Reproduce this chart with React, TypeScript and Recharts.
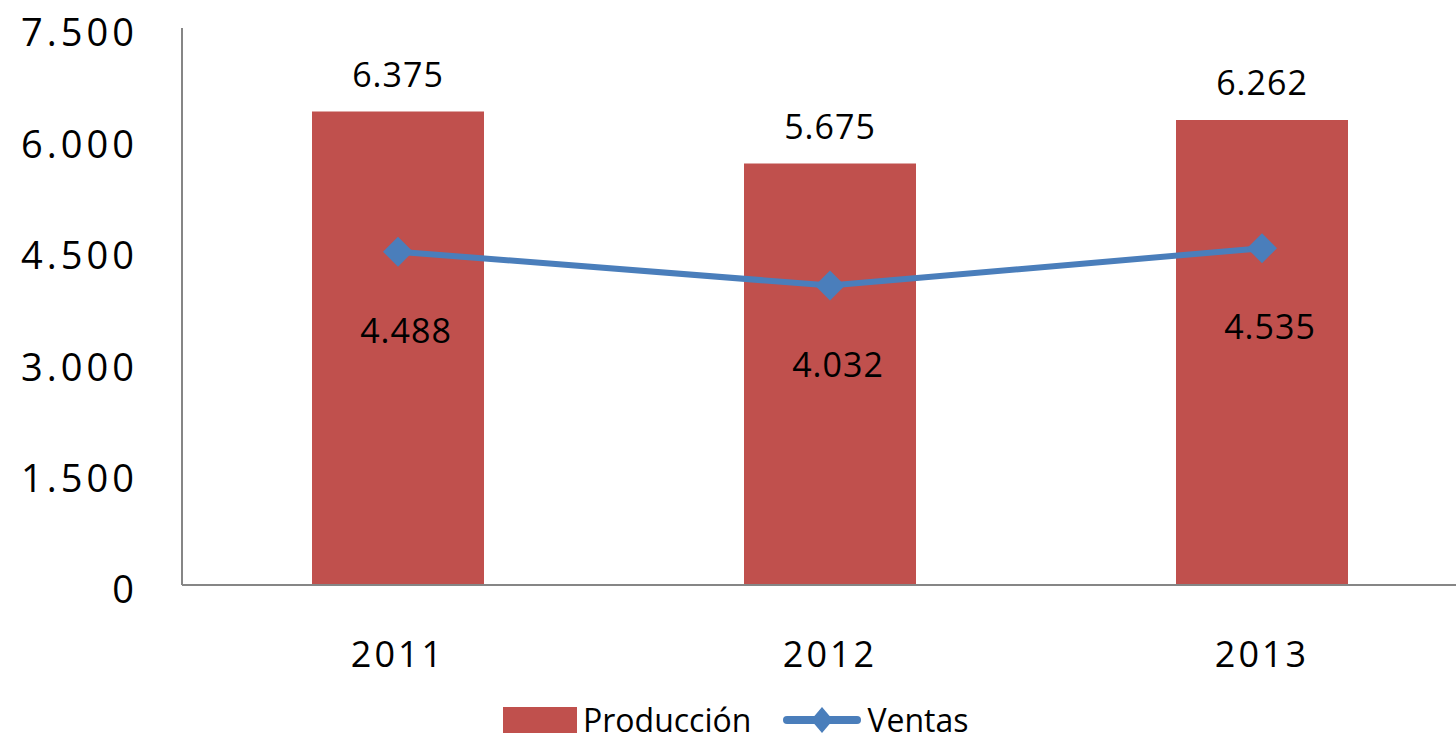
import { ComposedChart, Bar, Line, XAxis, YAxis, LabelList, Legend } from "recharts";

const years = ["2011", "2012", "2013"];
const produccion = [6375, 5675, 6262];
const ventas = [4488, 4032, 4535];
const yTicks = [0, 1500, 3000, 4500, 6000, 7500];

const data = years.map((year, i) => ({ year, produccion: produccion[i], ventas: ventas[i] }));

const RED = "#C0504D";
const BLUE = "#4A7EBB";
const AXIS = "#868686";

// spanish style thousands: 7.500
const fmt = (v: number) => String(v).replace(/\B(?=(\d{3})+(?!\d))/g, ".");

const Diamond = (props: any) => {
  const { cx, cy } = props;
  if (cx == null || cy == null) return null;
  const r = 15;
  return (
    <polygon
      key={`d-${cx}`}
      points={`${cx},${cy - r} ${cx + r},${cy} ${cx},${cy + r} ${cx - r},${cy}`}
      fill={BLUE}
    />
  );
};

const renderLegend = (props: any) => {
  const { payload = [] } = props;
  return (
    <div style={{ display: "flex", alignItems: "center", height: 36, fontSize: 32, color: "#000" }}>
      {payload.map((entry: any) => (
        <div key={entry.value} style={{ display: "flex", alignItems: "center", marginRight: 32 }}>
          {entry.type === "rect" ? (
            <svg width={74} height={26} style={{ marginRight: 6 }}>
              <rect x={0} y={0} width={74} height={26} fill={entry.color} />
            </svg>
          ) : (
            <svg width={78} height={30} style={{ marginRight: 6 }}>
              <line x1={4} y1={15} x2={74} y2={15} stroke={entry.color} strokeWidth={8} strokeLinecap="round" />
              <polygon points="39,2 50,15 39,28 28,15" fill={entry.color} />
            </svg>
          )}
          <span style={{ lineHeight: 1 }}>{entry.value}</span>
        </div>
      ))}
    </div>
  );
};

export default function App() {
  return (
    <div
      style={{
        position: "fixed",
        left: 0,
        top: 0,
        width: 1456,
        height: 740,
        overflow: "hidden",
        background: "#fff",
        fontFamily: "'Open Sans', sans-serif",
      }}
    >
      <ComposedChart
        width={1480}
        height={740}
        data={data}
        margin={{ top: 28, right: 2, bottom: 55, left: 0 }}
      >
        <XAxis
          dataKey="year"
          height={100}
          axisLine={{ stroke: AXIS, strokeWidth: 2 }}
          tickLine={false}
          tickSize={0}
          tickMargin={56}
          tick={{ fill: "#000", fontSize: 36, letterSpacing: 3 }}
        />
        <YAxis
          width={182}
          domain={[0, 7500]}
          ticks={yTicks}
          tickFormatter={fmt}
          axisLine={{ stroke: AXIS, strokeWidth: 2 }}
          tickLine={false}
          tickSize={0}
          tickMargin={44}
          tick={{ fill: "#000", fontSize: 38, letterSpacing: 4, dy: 5 }}
        />
        <Legend
          verticalAlign="middle"
          align="center"
          layout="horizontal"
          wrapperStyle={{ top: 702, left: 503, width: 700, height: 36 }}
          content={renderLegend}
        />
        <Bar dataKey="produccion" name="Producción" fill={RED} barSize={172} isAnimationActive={false} legendType="rect">
          <LabelList
            dataKey="produccion"
            position="top"
            offset={25}
            formatter={(v: any) => fmt(Number(v))}
            fill="#000"
            fontSize={34}
            letterSpacing={1}
          />
        </Bar>
        <Line
          dataKey="ventas"
          name="Ventas"
          stroke={BLUE}
          strokeWidth={6}
          dot={<Diamond />}
          activeDot={false}
          isAnimationActive={false}
          legendType="line"
        >
          <LabelList
            dataKey="ventas"
            position="bottom"
            offset={67}
            dx={8}
            formatter={(v: any) => fmt(Number(v))}
            fill="#000"
            fontSize={34}
            letterSpacing={1}
          />
        </Line>
      </ComposedChart>
    </div>
  );
}
